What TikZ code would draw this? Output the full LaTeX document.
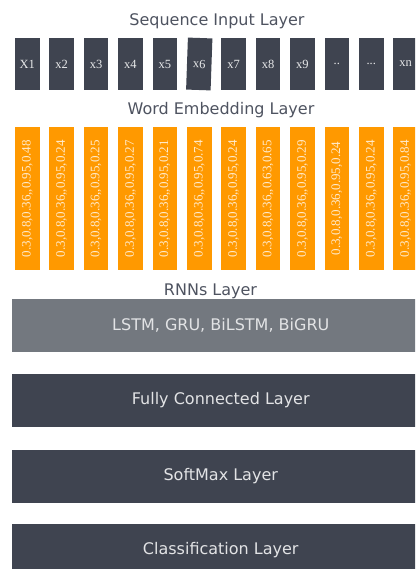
\documentclass[tikz,border=0pt]{standalone}
\usepackage{fontspec}
\setmainfont{DejaVu Sans}
\newfontfamily\numfont{Liberation Serif}
\definecolor{slate}{HTML}{3F4450}
\definecolor{rnngray}{HTML}{73787F}
\definecolor{embedorange}{HTML}{FF9900}
\definecolor{titlecol}{HTML}{4E5360}
\definecolor{numcol}{HTML}{FFEBCC}
\begin{document}
\begin{tikzpicture}
  [x=1pt,y=-1pt,every node/.style={inner sep=0pt,outer sep=0pt}]
  \tikzstyle{title} = [text=titlecol,font=\fontsize{16}{18}\selectfont]
  \tikzstyle{token} = [fill=slate,minimum width=24.5pt,minimum height=52pt,text=white!88!slate,font=\numfont\fontsize{12.5}{13}\selectfont]
  \tikzstyle{embed} = [fill=embedorange,rotate=90,minimum width=143pt,minimum height=24.5pt,text=numcol,font=\numfont\fontsize{13}{14}\selectfont]
  \tikzstyle{bar} = [minimum width=418.5pt,minimum height=53pt,text=white!85!slate,font=\fontsize{16}{18}\selectfont]
  \useasboundingbox (0,0) rectangle (415,569);
  \clip (0,0) rectangle (415,569);
  % titles
  \node[title] (inputtitle) at (217,21) {Sequence Input Layer};
  \node[title] (embedtitle) at (221,110) {Word Embedding Layer};
  \node[title] (rnntitle) at (210.5,291) {RNNs Layer};
  % input tokens
  \foreach \i/\lbl/\tilt in {1/X1/0,2/x2/0,3/x3/0,4/x4/0,5/x5/0,6/x6/-2,7/x7/0,8/x8/0,9/x9/0,10/{..}/0,11/{..{}.}/0,12/xn/0}
    \node[token,rotate=\tilt] (t\i) at ({27.25+34.4*(\i-1)},64) {\lbl};
  % embeddings
  \foreach \i/\vals in {1/{0.3,0.8,0.36,,0.95,0.48},2/{0.3,0.8,0.36,,0.95,0.24},3/{0.3,0.8,0.36,,0.95,0.25},
    4/{0.3,0.8,0.36,,0.95,0.27},5/{0.3,0.8,0.36,,0.95,0.21},6/{0.3,0.8,0.36,,0.95,0.74},
    7/{0.3,0.8,0.36,,0.95,0.24},8/{0.3,0.8,0.36,,0.63,0.65},9/{0.3,0.8,0.36,,0.95,0.29},
    10/{0.3,0.8,0.36,0.95,0.24},11/{0.3,0.8,0.36,,0.95,0.24},12/{0.3,0.8,0.36,,0.95,0.84}}
    \node[embed] (e\i) at ({27.25+34.4*(\i-1)},198.5) {\vals};
  % layers
  \node[bar,fill=rnngray] (rnn) at (220.75,325.5) {LSTM, GRU, BiLSTM, BiGRU};
  \node[bar,fill=slate] (fc) at (220.75,400.5) {Fully Connected Layer};
  \node[bar,fill=slate] (softmax) at (220.75,476) {SoftMax Layer};
  \node[bar,fill=slate] (classify) at (220.75,550.5) {Classification Layer};
\end{tikzpicture}
\end{document}
